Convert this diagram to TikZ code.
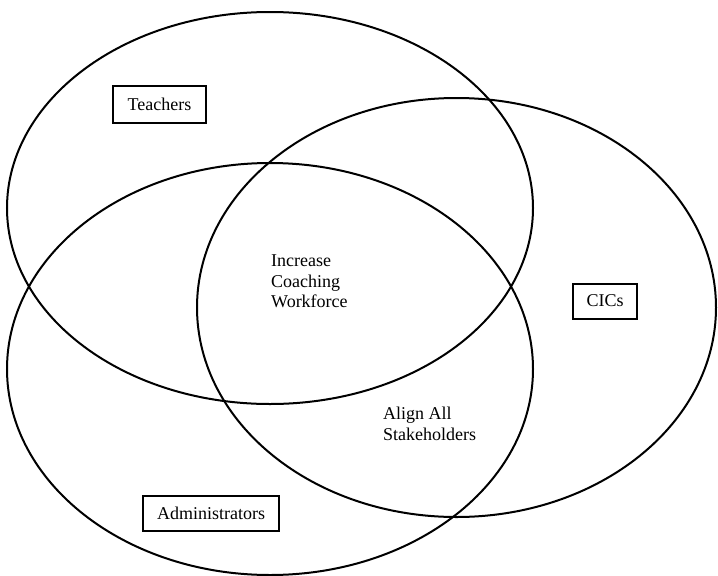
\documentclass[tikz,border=0pt]{standalone}
\usepackage{fontspec}
\setmainfont{Liberation Serif}
\begin{document}
\begin{tikzpicture}[x=1pt,y=-1pt,
  ring/.style={line width=2pt},
  label/.style={draw,line width=2pt,inner sep=0pt,font=\fontsize{18}{20.5}\selectfont},
  note/.style={inner sep=0pt,anchor=north west,align=left,font=\fontsize{18}{20.5}\selectfont}]
\useasboundingbox (0,0) rectangle (718,576);
% three overlapping circles of the diagram
\draw[ring] (270,208) ellipse (263 and 196);
\draw[ring] (456.5,307.5) ellipse (259.5 and 209.5);
\draw[ring] (270,369) ellipse (263 and 206);
% group labels
\node[label,minimum width=93,minimum height=37] (teachers) at (159.5,104) {Teachers};
\node[label,minimum width=64,minimum height=35] (cics) at (605,301) {CICs};
\node[label,minimum width=136,minimum height=35] (admins) at (211,513.5) {Administrators};
% goals in the overlaps
\node[note] (workforce) at (271,255) {Increase\\Coaching\\Workforce};
\node[note] (align) at (383,407) {Align All\\Stakeholders};
\end{tikzpicture}
\end{document}
